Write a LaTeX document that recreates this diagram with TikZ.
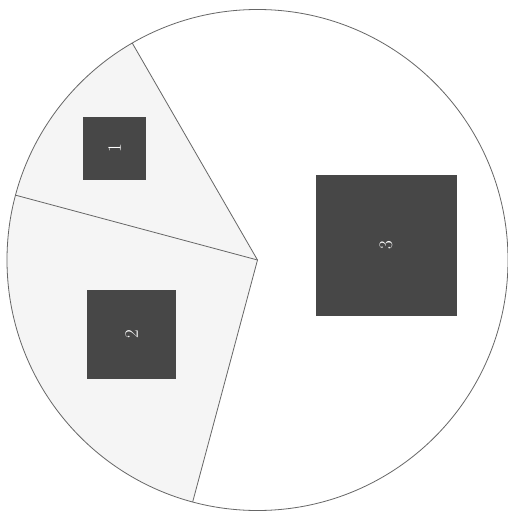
\documentclass[tikz,border=0pt]{standalone}
\usetikzlibrary{calc}
\begin{document}
\begin{tikzpicture}[x=1pt,y=-1pt,
  slice/.style={draw=black!60,line width=0.8pt},
  sq/.style={fill=black!72,draw=none,inner sep=0pt,text=white,rotate=90,
    font=\fontsize{19}{19}\selectfont}]
\useasboundingbox (0,0) rectangle (508,514);
\fill[white] (0,0) rectangle (508,514);
\coordinate (c) at (257.5,260);
\coordinate (p1) at ($(c)+(-120:250.5)$);
\coordinate (p2) at ($(c)+(-165:250.5)$);
\coordinate (p3) at ($(c)+(-255:250.5)$);
\fill[black!4] (c) -- (p1) arc[start angle=-120,end angle=-255,radius=250.5] -- cycle;
\draw[slice] (c) circle[radius=250.5];
\draw[slice] (c) -- (p1);
\draw[slice] (c) -- (p2);
\draw[slice] (c) -- (p3);
\node[sq,minimum size=63] (s1) at (114.5,148) {1};
\node[sq,minimum size=89] (s2) at (131.5,334.5) {2};
\node[sq,minimum size=141] (s3) at (386,245.5) {3};
\end{tikzpicture}
\end{document}
